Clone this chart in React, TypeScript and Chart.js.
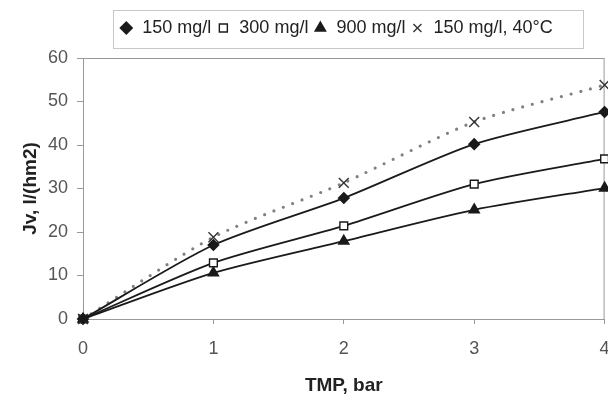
import React, { useEffect, useRef } from "react";
import { Chart, registerables } from "chart.js";

Chart.register(...registerables);

const tmp = [0, 1, 2, 3, 4];
const s150 = [0, 17.0, 27.8, 40.2, 47.6];
const s300 = [0, 12.9, 21.4, 31.0, 36.8];
const s900 = [0, 10.6, 17.9, 25.1, 30.1];
const s150hot = [0, 18.8, 31.3, 45.3, 53.8];
const yTicks = [0, 10, 20, 30, 40, 50, 60];
const xTicks = [0, 1, 2, 3, 4];

const labels = ["150 mg/l", "300 mg/l", "900 mg/l", "150 mg/l, 40°C"];

const FONT = "Liberation Sans, Arial, sans-serif";

export default function App() {
  const ref = useRef<HTMLCanvasElement | null>(null);
  useEffect(() => {
    document.body.style.margin = "0";
    const pts = (arr: number[]) => tmp.map((x, i) => ({ x, y: arr[i] }));
    const ink = "#1a1a1a";
    const chart = new Chart(ref.current!, {
      type: "line",
      data: {
        datasets: [
          {
            label: labels[0],
            data: pts(s150),
            borderColor: ink,
            backgroundColor: ink,
            borderWidth: 1.8,
            pointStyle: "rectRot",
            pointRadius: 5,
            pointBorderColor: ink,
            pointBackgroundColor: ink,
            tension: 0.25,
            clip: false,
          },
          {
            label: labels[1],
            data: pts(s300),
            borderColor: ink,
            backgroundColor: "#fff",
            borderWidth: 1.8,
            pointStyle: "rect",
            pointRadius: 5.5,
            pointBorderColor: ink,
            pointBackgroundColor: "#fff",
            pointBorderWidth: 1.4,
            tension: 0.25,
            clip: false,
          },
          {
            label: labels[2],
            data: pts(s900),
            borderColor: ink,
            backgroundColor: ink,
            borderWidth: 1.8,
            pointStyle: "triangle",
            pointRadius: 5.5,
            pointBorderColor: ink,
            pointBackgroundColor: ink,
            tension: 0.25,
            clip: false,
          },
          {
            label: labels[3],
            data: pts(s150hot),
            borderColor: "#808080",
            backgroundColor: "#333",
            borderWidth: 3.2,
            borderDash: [0, 10],
            borderCapStyle: "round",
            pointStyle: "crossRot",
            pointRadius: 7,
            pointBorderColor: "#333",
            pointBorderWidth: 1.4,
            tension: 0.25,
            clip: false,
          },
        ],
      },
      options: {
        animation: false,
        responsive: false,
        devicePixelRatio: 1,
        layout: { padding: { left: 0, right: 0, top: 0, bottom: 0 } },
        plugins: {
          legend: {
            position: "top",
            align: "center",
            labels: {
              usePointStyle: true,
              boxWidth: 14,
              boxHeight: 8,
              padding: 5,
              color: "#222",
              font: { family: FONT, size: 18 },
            },
          },
          tooltip: { enabled: false },
        },
        scales: {
          x: {
            type: "linear",
            min: 0,
            max: 4,
            afterBuildTicks: (a: any) => {
              a.ticks = xTicks.map((v) => ({ value: v }));
            },
            afterFit: (s: any) => {
              s.height = 76;
              s.paddingRight = 0;
              s.paddingLeft = 0;
            },
            grid: { display: true, drawOnChartArea: false, drawTicks: true, tickLength: 5, color: "#999" },
            border: { display: true, color: "#999", width: 1 },
            ticks: {
              color: "#555",
              padding: 14,
              maxRotation: 0,
              font: { family: FONT, size: 18 },
            },
            title: {
              display: true,
              text: "TMP, bar",
              color: "#222",
              padding: { top: 0, bottom: -2 },
              font: { family: FONT, size: 19, weight: "bold" },
            },
          },
          y: {
            min: 0,
            max: 60,
            afterBuildTicks: (a: any) => {
              a.ticks = yTicks.map((v) => ({ value: v }));
            },
            afterFit: (s: any) => {
              s.width = 83;
            },
            grid: { display: true, drawOnChartArea: false, drawTicks: true, tickLength: 6, color: "#999" },
            border: { display: true, color: "#999", width: 1 },
            ticks: {
              color: "#555",
              padding: 9,
              font: { family: FONT, size: 18 },
            },
            title: {
              display: true,
              text: "Jv, l/(hm2)",
              color: "#222",
              padding: { top: 19, bottom: 0 },
              font: { family: FONT, size: 19, weight: "bold" },
            },
          },
        },
      },
      plugins: [
        {
          id: "legendPlace",
          beforeLayout(c: any) {
            const lg = c.legend;
            if (lg && !lg._patched) {
              const f = lg.fit.bind(lg);
              lg.fit = () => {
                f();
                lg.height = 58;
              };
              lg._patched = true;
            }
          },
          afterLayout(c: any) {
            const lg = c.legend;
            if (!lg) return;
            lg.left = 88;
            lg.right = 584;
            lg.width = 496;
            lg.top = 14;
            lg.bottom = 49;
            lg.height = 35;
          },
          beforeDraw(c: any) {
            const ctx = c.ctx;
            ctx.save();
            ctx.strokeStyle = "#c8c8c8";
            ctx.lineWidth = 1;
            ctx.strokeRect(113.5, 10.5, 470, 38);
            ctx.restore();
          },
        },
        {
          id: "frame",
          beforeDatasetsDraw(c: any) {
            const { left, right, top, bottom } = c.chartArea;
            const ctx = c.ctx;
            ctx.save();
            ctx.strokeStyle = "#999";
            ctx.lineWidth = 1;
            ctx.strokeRect(left + 0.5, top + 0.5, right - left - 1, bottom - top);
            ctx.restore();
          },
        },
      ],
    } as any);
    return () => chart.destroy();
  }, []);
  return (
    <div style={{ width: 608, height: 395, background: "#fff", overflow: "hidden" }}>
      <canvas ref={ref} width={613} height={395} style={{ display: "block" }} />
    </div>
  );
}
